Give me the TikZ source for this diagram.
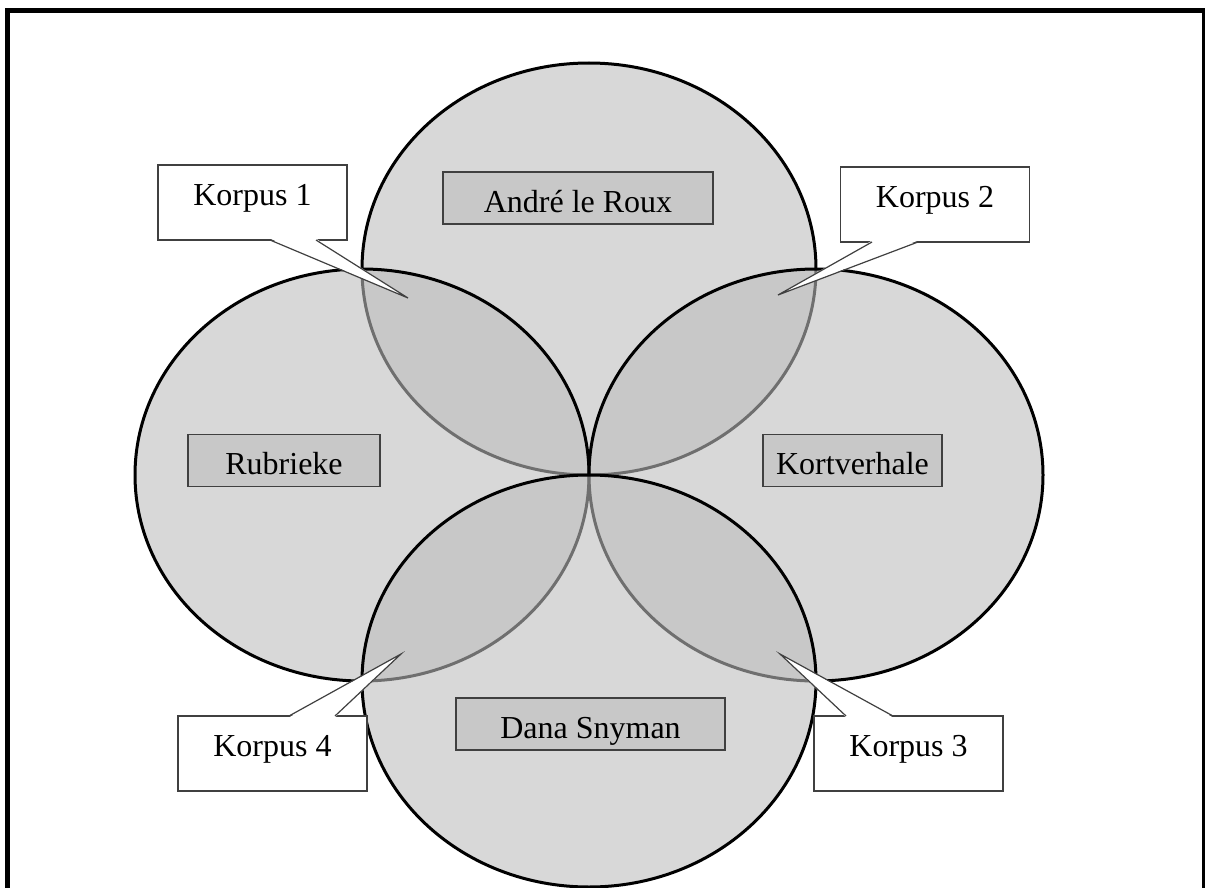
\documentclass[tikz,border=0pt]{standalone}
\usepackage{fontspec}
\setmainfont{Liberation Serif}
\usetikzlibrary{calc}
\definecolor{SetFill}{HTML}{BDBDBD}
\definecolor{TagFill}{HTML}{C8C8C8}
\definecolor{EdgeGrey}{HTML}{404040}

\tikzset{
  vset/.style={fill=SetFill, fill opacity=0.59, draw=black, line width=3pt},
  tag/.style={draw=EdgeGrey, fill=TagFill, line width=1.5pt, minimum height=52pt,
    inner sep=0pt, text height=28pt, text depth=0pt, font=\fontsize{32}{38}\selectfont},
  korpus/.style={draw=EdgeGrey, fill=white, line width=1.2pt, minimum width=189pt,
    minimum height=75pt, inner sep=0pt, text height=21pt, text depth=16pt,
    font=\fontsize{32}{38}\selectfont},
  wedge/.style={draw=EdgeGrey, line width=1.2pt},
}

\begin{document}
\begin{tikzpicture}[x=1pt, y=-1pt]
    \useasboundingbox (0,0) rectangle (1205,888);
    \clip (0,0) rectangle (1205,888);

    % Frame
    \draw[line width=5pt] (7.5,10.8) rectangle (1204.5,900);

    % Sets
    \coordinate (ctop) at (589,269);
    \coordinate (cleft) at (362,475);
    \coordinate (cright) at (816,475);
    \coordinate (cbot) at (589,681);
    \filldraw[vset] (ctop) ellipse [x radius=227, y radius=206];
    \filldraw[vset] (cleft) ellipse [x radius=227, y radius=206];
    \filldraw[vset] (cright) ellipse [x radius=227, y radius=206];
    \filldraw[vset] (cbot) ellipse [x radius=227, y radius=206];

    % Set labels
    \node[tag, minimum width=270pt] (roux) at (578,198) {André le Roux};
    \node[tag, minimum width=192pt] (rubr) at (284,460.5) {Rubrieke};
    \node[tag, minimum width=179pt] (kort) at (852.5,460.5) {Kortverhale};
    \node[tag, minimum width=269pt] (dana) at (590.5,724) {Dana Snyman};

    % Callouts
    \coordinate (t1) at (408,298);
    \coordinate (t2) at (778,295);
    \coordinate (t3) at (780,654);
    \coordinate (t4) at (401,654);

    \node[korpus] (k1) at (252.5,202.5) {Korpus 1};
    \fill[white] ($(k1.south)+(17.5,-2)$) -- (t1) -- ($(k1.south)+(63.5,-2)$) -- cycle;
    \draw[wedge] ($(k1.south)+(17.5,-0.6)$) -- (t1) -- ($(k1.south)+(63.5,-0.6)$);

    \node[korpus] (k2) at (935,204.5) {Korpus 2};
    \fill[white] ($(k2.south)+(-63,-2)$) -- (t2) -- ($(k2.south)+(-17,-2)$) -- cycle;
    \draw[wedge] ($(k2.south)+(-63,-0.6)$) -- (t2) -- ($(k2.south)+(-17,-0.6)$);

    \node[korpus] (k3) at (908.5,753.5) {Korpus 3};
    \fill[white] ($(k3.north)+(-62.5,2)$) -- (t3) -- ($(k3.north)+(-15.5,2)$) -- cycle;
    \draw[wedge] ($(k3.north)+(-62.5,0.6)$) -- (t3) -- ($(k3.north)+(-15.5,0.6)$);

    \node[korpus] (k4) at (272.5,753.5) {Korpus 4};
    \fill[white] ($(k4.north)+(16.5,2)$) -- (t4) -- ($(k4.north)+(62.5,2)$) -- cycle;
    \draw[wedge] ($(k4.north)+(16.5,0.6)$) -- (t4) -- ($(k4.north)+(62.5,0.6)$);
\end{tikzpicture}
\end{document}
